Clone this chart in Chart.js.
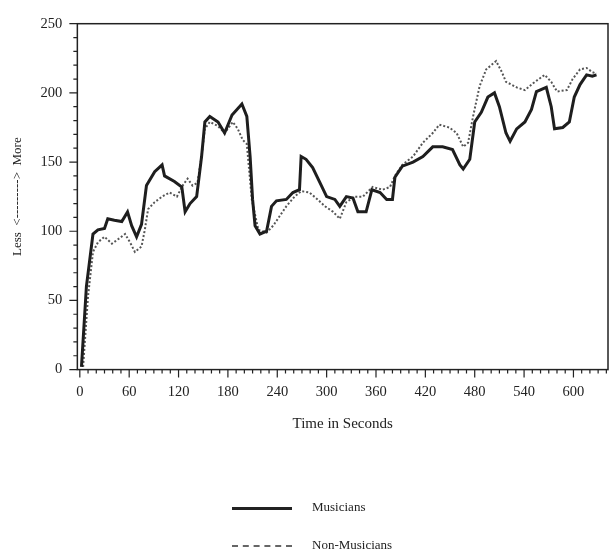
<!DOCTYPE html>
<html>
<head>
<meta charset="utf-8">
<script src="https://cdn.jsdelivr.net/npm/chart.js@4/dist/chart.umd.min.js"></script>
<style>
  body { margin: 0; background: #fff; }
  #wrap { position: relative; width: 613px; height: 550px; }
  .leg { position: absolute; left: 232px; font: 13px 'Liberation Serif', serif; color: #222; }
  .leg span.ln { display: inline-block; width: 60px; vertical-align: middle; margin-right: 20px; }
</style>
</head>
<body>
<div id="wrap">
  <canvas id="c" width="613" height="550"></canvas>
  <div class="leg" style="top:499px"><span class="ln" style="border-top:3px solid #222"></span>Musicians</div>
  <div class="leg" style="top:537px"><span class="ln" style="border-top:2px dashed #666"></span>Non-Musicians</div>
</div>
<script>
// time in seconds / rating values
const musTime = [2, 8, 16, 22, 30, 34, 42, 51, 58, 63, 69, 75, 81, 91, 100, 103, 115, 124, 128, 134, 142, 148, 152, 158, 168, 176, 185, 197, 203, 207, 210, 213, 219, 227, 233, 239, 251, 259, 267, 269, 275, 283, 292, 300, 310, 316, 324, 332, 338, 348, 355, 365, 373, 380, 383, 392, 405, 417, 429, 441, 453, 462, 466, 474, 480, 488, 496, 504, 510, 518, 523, 531, 541, 549, 555, 567, 573, 577, 587, 595, 601, 608, 616, 623, 628];
const musVals = [2, 60, 98, 101, 102, 109, 108, 107, 114, 104, 96, 105, 133, 143, 148, 140, 136, 132, 114, 120, 125, 154, 179, 183, 179, 171, 184, 192, 183, 154, 123, 104, 98, 100, 118, 122, 123, 128, 130, 154, 152, 146, 135, 125, 123, 118, 125, 124, 114, 114, 130, 128, 123, 123, 139, 147, 150, 154, 161, 161, 159, 148, 145, 152, 179, 186, 197, 200, 190, 171, 165, 174, 179, 188, 201, 204, 190, 174, 175, 179, 197, 206, 213, 212, 213];

const nonTime = [4, 10, 16, 22, 30, 39, 46, 55, 61, 67, 75, 79, 83, 91, 100, 109, 118, 125, 131, 137, 143, 148, 152, 158, 168, 176, 186, 192, 198, 203, 209, 217, 227, 235, 243, 251, 261, 269, 279, 289, 298, 308, 316, 324, 334, 344, 356, 368, 377, 383, 392, 405, 417, 429, 437, 449, 458, 466, 472, 478, 486, 494, 506, 513, 518, 531, 541, 551, 565, 573, 580, 592, 599, 608, 616, 623, 628];
const nonVals = [2, 53, 85, 92, 96, 91, 94, 98, 92, 85, 89, 101, 116, 121, 125, 128, 125, 133, 138, 133, 135, 154, 174, 179, 176, 171, 179, 174, 166, 163, 123, 101, 99, 104, 111, 118, 125, 129, 128, 123, 118, 114, 109, 121, 125, 125, 132, 130, 132, 140, 148, 154, 164, 171, 177, 175, 171, 161, 164, 183, 205, 217, 223, 215, 208, 204, 202, 207, 213, 208, 201, 202, 210, 217, 218, 215, 214];

const xMajor = [0, 60, 120, 180, 240, 300, 360, 420, 480, 540, 600];
const yMajor = [0, 50, 100, 150, 200, 250];

const toPts = (t, v) => t.map((x, i) => ({ x: x, y: v[i] }));
const serif = "'Liberation Serif', 'DejaVu Serif', serif";

// frame + minor ticks like the original plot
const framePlugin = {
  id: 'frame',
  afterDraw(chart) {
    const { ctx, chartArea: a, scales } = chart;
    ctx.save();
    ctx.strokeStyle = '#222';
    ctx.lineWidth = 1.5;
    ctx.strokeRect(a.left, a.top, a.right - a.left, a.bottom - a.top);
    ctx.lineWidth = 1.2;
    ctx.beginPath();
    for (let v = 0; v <= 640; v += 10) {
      const px = scales.x.getPixelForValue(v);
      const len = v % 60 === 0 ? 8 : 4;
      ctx.moveTo(px, a.bottom); ctx.lineTo(px, a.bottom + len);
    }
    for (let v = 0; v <= 250; v += 10) {
      const py = scales.y.getPixelForValue(v);
      const len = v % 50 === 0 ? 8 : 4;
      ctx.moveTo(a.left, py); ctx.lineTo(a.left - len, py);
    }
    ctx.stroke();
    ctx.restore();
  }
};

new Chart(document.getElementById('c'), {
  type: 'line',
  data: {
    datasets: [
      {
        label: 'Musicians',
        data: toPts(musTime, musVals),
        borderColor: '#1e1e1e',
        borderWidth: 3,
        pointRadius: 0,
        tension: 0
      },
      {
        label: 'Non-Musicians',
        data: toPts(nonTime, nonVals),
        borderColor: '#555',
        borderWidth: 2,
        borderDash: [2, 2],
        pointRadius: 0,
        tension: 0
      }
    ]
  },
  options: {
    responsive: false,
    animation: false,
    layout: { padding: { top: 21, right: 5, bottom: 113, left: 2 } },
    plugins: { legend: { display: false }, tooltip: { enabled: false } },
    scales: {
      x: {
        type: 'linear',
        min: -3,
        max: 642,
        afterBuildTicks: s => { s.ticks = xMajor.map(v => ({ value: v })); },
        grid: { display: false, drawTicks: false },
        border: { display: false },
        ticks: { color: '#222', font: { family: serif, size: 14.5 }, padding: 14, maxRotation: 0 },
        title: { display: true, text: 'Time in Seconds', color: '#222', font: { family: serif, size: 15 }, padding: { top: 0 } }
      },
      y: {
        min: 0,
        max: 250,
        afterBuildTicks: s => { s.ticks = yMajor.map(v => ({ value: v })); },
        grid: { display: false, drawTicks: false },
        border: { display: false },
        ticks: { color: '#222', font: { family: serif, size: 14.5 }, padding: 15 },
        title: { display: true, text: 'Less  <--------->  More', color: '#222', font: { family: serif, size: 13 }, padding: { top: 8, bottom: 0 } }
      }
    }
  },
  plugins: [framePlugin]
});
</script>
</body>
</html>
